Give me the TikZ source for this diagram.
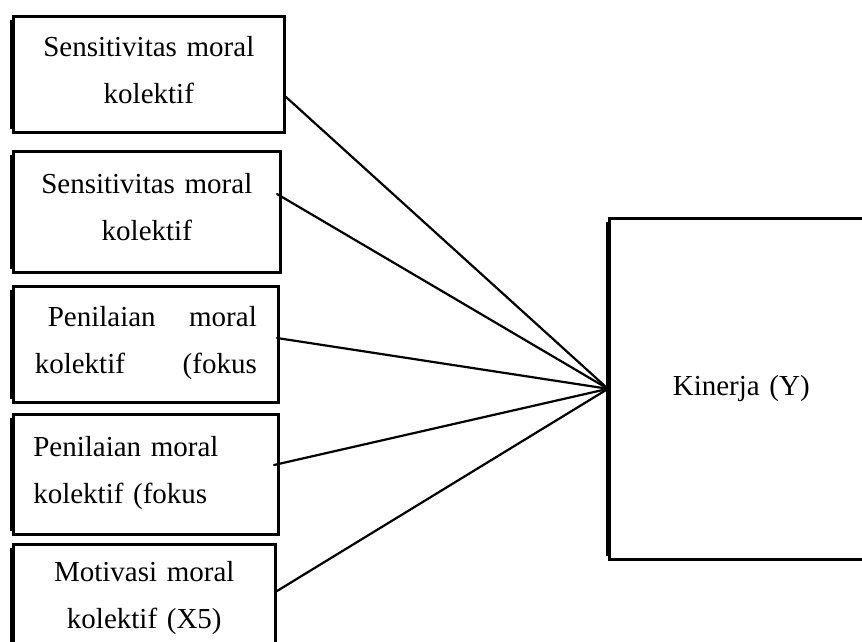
\documentclass[tikz,border=0pt]{standalone}
\usepackage{fontspec}
\setmainfont{Liberation Serif}
\newcommand{\lastdp}{\rule[-9pt]{0pt}{9pt}}
\tikzset{
  varbox/.style={draw=black, line width=2.6pt, anchor=north west, inner sep=0pt,
    font=\fontsize{29}{47}\selectfont, fill=white},
  leftbar/.style={line width=4.5pt, line cap=butt},
  link/.style={line width=2.2pt, line cap=round},
}
\begin{document}
\begin{tikzpicture}[x=1pt,y=-1pt]
\useasboundingbox (0,0) rectangle (862,641);
\clip (0,0) rectangle (862,641);
% independent variable boxes
\node[varbox, minimum width=271pt, minimum height=116pt, text width=230pt, align=center]
  (b1) at (12,15) {Sensitivitas moral\\kolektif\lastdp};
\node[varbox, minimum width=267pt, minimum height=121pt, text width=230pt, align=center]
  (b2) at (12,150) {Sensitivitas moral\\kolektif\lastdp};
\node[varbox, minimum width=265pt, minimum height=116pt, text width=222pt, align=left]
  (b3) at (12,285) {\hspace*{13pt}Penilaian\hfill moral\\kolektif\hfill(fokus\lastdp};
\node[varbox, minimum width=265pt, minimum height=120pt, text width=225pt, align=left]
  (b4) at (12,413) {Penilaian moral\\kolektif (fokus\lastdp};
\node[varbox, minimum width=262pt, minimum height=110pt, text width=230pt, align=center]
  (b5) at (12,543) {Motivasi moral\\kolektif (X5)\lastdp};
% dependent variable box
\node[varbox, minimum width=264pt, minimum height=341pt, text width=230pt, align=center]
  (k) at (608,217) {Kinerja (Y)};
% thicker left edges
\foreach \b in {b1,b2,b3,b4,b5,k}{
  \draw[leftbar] ([yshift=-5pt]\b.north west) -- ([yshift=5pt]\b.south west);
}
% connector start points
\coordinate (p1) at (286,97);
\coordinate (p2) at (277,194);
\coordinate (p3) at (277,338);
\coordinate (p4) at (274,465);
\coordinate (p5) at (277,591);
\foreach \p in {p1,p2,p3,p4,p5}{
  \draw[link] (\p) -- (k.west);
}
\end{tikzpicture}
\end{document}
